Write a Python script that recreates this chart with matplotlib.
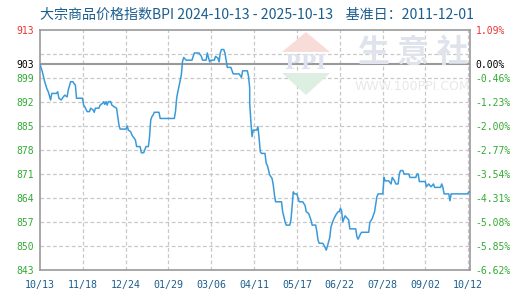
import matplotlib
matplotlib.use('Agg')
import matplotlib.pyplot as plt
from matplotlib.patches import Polygon

# BPI daily index (x = day from 2024-10-13)
days = [0, 2, 4, 6, 7, 9, 10, 14, 15, 16, 18, 19, 21, 23, 24, 26, 28, 29, 30, 31,
        36, 37, 38, 40, 42, 43, 45, 46, 47, 50, 51, 53, 54, 55, 56, 57, 58, 60, 61, 63,
        65, 66, 67, 68, 73, 74, 75, 77, 78, 80, 81, 82, 85, 86, 88, 90, 92, 93, 94, 95,
        96, 97, 101, 102, 114, 115, 116, 117, 118, 120, 121, 122, 124, 129, 130, 131, 135, 137, 138, 141,
        142, 143, 144, 145, 148, 149, 151, 152, 153, 154, 156, 157, 158, 159, 162, 164, 169, 171, 172, 176,
        177, 178, 178, 179, 180, 181, 184, 185, 186, 187, 188, 191, 192, 193, 195, 196, 197, 198, 199, 200,
        205, 206, 208, 209, 212, 213, 214, 215, 216, 218, 220, 223, 225, 226, 228, 230, 231, 234, 235, 236,
        237, 240, 242, 243, 245, 246, 247, 249, 251, 253, 254, 255, 256, 257, 259, 262, 263, 268, 269, 270,
        272, 273, 279, 280, 282, 284, 286, 287, 291, 292, 293, 296, 298, 299, 301, 302, 304, 305, 306, 308,
        309, 313, 314, 319, 320, 321, 322, 327, 328, 330, 331, 332, 334, 335, 340, 341, 342, 343, 347, 348,
        349, 363, 364, 365]
bpi = [903.0, 900.8, 897.9, 895.7, 895.0, 892.6, 894.5, 894.5, 895.0, 893.1, 892.6, 893.1, 894.0, 893.5, 895.5, 897.9, 897.9, 897.3, 897.0, 893.1,
       893.1, 891.1, 890.6, 889.2, 889.2, 890.2, 889.7, 889.0, 890.2, 890.2, 891.1, 891.6, 892.1, 891.3, 892.1, 891.1, 892.1, 892.1, 891.1, 890.6,
       890.2, 887.7, 885.3, 884.1, 884.1, 885.0, 883.8, 883.3, 882.4, 881.4, 880.9, 879.0, 879.0, 877.2, 877.2, 879.0, 879.0, 881.9, 886.8, 887.7,
       888.2, 889.0, 889.0, 887.2, 887.2, 889.2, 893.1, 895.0, 896.6, 900.0, 903.9, 905.0, 904.2, 904.2, 905.3, 906.3, 906.3, 905.3, 904.2, 904.2,
       906.3, 905.0, 903.7, 904.2, 904.2, 905.3, 904.8, 903.7, 906.3, 907.3, 907.3, 906.3, 904.2, 902.1, 902.1, 900.2, 900.2, 899.2, 901.1, 901.1,
       899.5, 896.1, 891.6, 886.3, 881.9, 883.8, 883.8, 884.8, 881.4, 877.5, 877.0, 877.0, 874.1, 873.5, 870.7, 870.2, 869.7, 867.8, 864.9, 862.9,
       862.9, 860.0, 857.1, 856.1, 856.1, 857.6, 861.5, 865.8, 865.2, 865.2, 862.9, 862.9, 861.8, 860.0, 859.5, 857.6, 856.1, 856.1, 854.2, 851.7,
       850.8, 850.8, 849.6, 848.8, 851.3, 852.5, 855.6, 857.6, 859.0, 860.0, 860.0, 861.0, 860.3, 857.1, 858.8, 857.6, 855.0, 855.0, 852.7, 852.0,
       853.5, 854.0, 854.0, 856.9, 858.0, 860.0, 864.4, 865.2, 865.2, 870.0, 869.0, 869.0, 868.1, 870.0, 869.0, 868.1, 868.1, 871.0, 872.0, 872.0,
       871.0, 871.0, 870.0, 870.0, 871.0, 871.0, 868.8, 868.8, 867.3, 868.1, 867.6, 867.3, 868.1, 867.1, 867.1, 868.1, 867.1, 865.2, 865.2, 863.2,
       865.2, 865.2, 865.8, 865.8]

x_labels = ['10/13', '11/18', '12/24', '01/29', '03/06', '04/11', '05/17', '06/22', '07/28', '09/02', '10/12']
y_ticks = [913, 903, 899, 892, 885, 878, 871, 864, 857, 850, 843]
pct_labels = ['1.09%', '0.00%', '-0.46%', '-1.23%', '-2.00%', '-2.77%', '-3.54%', '-4.31%', '-5.08%', '-5.85%', '-6.62%']
base = 903

blue_txt = '#1b5e8e'
green = '#33aa33'
red = '#ee3333'
label_colors = [red, 'black'] + [green] * 9

W, H = 520, 300
fig = plt.figure(figsize=(5.2, 3.0), dpi=100)
ax = fig.add_axes([40/W, 30/H, 430/W, 240/H])
ax.set_xlim(0, 365)
ax.set_ylim(843, 913)

# watermark (pixel coords from top-left -> figure fraction)
def fpt(px, py):
    return (px / W, 1 - py / H)

fig.patches.append(Polygon([fpt(282, 52), fpt(306, 32), fpt(330, 52)], closed=True,
                           transform=fig.transFigure, facecolor='#f8dcd8', edgecolor='none', zorder=0))
fig.patches.append(Polygon([fpt(282, 73), fpt(330, 73), fpt(306, 95)], closed=True,
                           transform=fig.transFigure, facecolor='#dcefe0', edgecolor='none', zorder=0))
fig.text(306/W, 1-63/H, 'PPI', ha='center', va='center', fontsize=15,
         family='DejaVu Serif', fontweight='bold', color='#dde3ee', zorder=0)
fig.text(413/W, 1-53/H, '生 意 社', ha='center', va='center', fontsize=23,
         family=['Noto Sans CJK SC'], fontweight='bold', color='#dfe4ec', zorder=0)
fig.text(355/W, 1-87/H, 'WWW.100PPI.COM', ha='left', va='center', fontsize=9,
         family='DejaVu Sans', color='#e8e8e8', zorder=0)
ax.patch.set_alpha(0)

# grid
grid_x = [i * 36.35 for i in range(1, 11)]
for gx in grid_x:
    ax.axvline(gx, color='#c8c8c8', lw=0.9, ls=(0, (3, 2)), zorder=1)
for gy in [906, 899, 892, 885, 878, 871, 864, 857, 850]:
    ax.axhline(gy, color='#c8c8c8', lw=0.9, ls=(0, (3, 2)), zorder=1)
ax.axhline(base, color='#999999', lw=1.5, zorder=2)

ax.plot(days, bpi, color='#3a9ad9', lw=1.1, zorder=3)

for s in ax.spines.values():
    s.set_color('#999999')
    s.set_linewidth(1.2)

ax.set_xticks([i * 36.35 for i in range(11)])
ax.set_xticklabels(x_labels, family='DejaVu Sans Mono', fontsize=7.2, color=blue_txt)
ax.set_yticks(y_ticks)
ax.set_yticklabels([str(v) for v in y_ticks], family='DejaVu Sans Mono', fontsize=7.0)
for lab, c in zip(ax.get_yticklabels(), label_colors):
    lab.set_color(c)
ax.tick_params(length=0, pad=4)
ax.tick_params(axis='x', pad=7)

ax2 = ax.twinx()
ax2.set_ylim(843, 913)
ax2.set_yticks(y_ticks)
ax2.set_yticklabels(pct_labels, family='DejaVu Sans Mono', fontsize=7.0)
for lab, c in zip(ax2.get_yticklabels(), label_colors):
    lab.set_color(c)
ax2.tick_params(length=0, pad=4)
for s in ax2.spines.values():
    s.set_visible(False)

fig.text(257/W, 1-15/H, '大宗商品价格指数BPI 2024-10-13 - 2025-10-13    基准日：2011-12-01',
         ha='center', va='center', fontsize=10.1, color=blue_txt,
         family=['Noto Sans CJK SC', 'DejaVu Sans'])

fig.savefig('out.png', dpi=100)
